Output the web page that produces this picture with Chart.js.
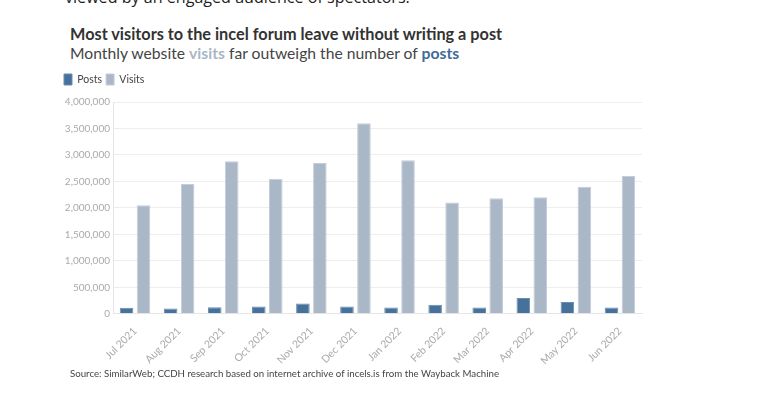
<!DOCTYPE html>
<html>
<head>
<meta charset="utf-8">
<script src="https://cdn.jsdelivr.net/npm/chart.js@4"></script>
<style>
  body { margin: 0; background: #fff; width: 758px; height: 409px; overflow: hidden; position: relative; font-family: Lato, "Noto Sans", sans-serif; }
  .intro { position: absolute; left: 65px; top: -14px; font-size: 16.1px; color: #222; font-family: "Open Sans", sans-serif; }
  .title { position: absolute; left: 70px; top: 24px; font-size: 16.3px; font-weight: bold; color: #333; }
  .subtitle { position: absolute; left: 70px; top: 44px; font-size: 15.7px; color: #444; }
  .subtitle b.v { color: #a9b6c6; }
  .subtitle b.p { color: #3e6b97; }
  .source { position: absolute; left: 70px; top: 367px; font-size: 9.7px; color: #444; }
  #wrap { position: absolute; left: 60px; top: 70px; width: 590px; height: 300px; }
</style>
</head>
<body>
<div class="intro">viewed by an engaged audience of spectators.</div>
<div class="title">Most visitors to the incel forum leave without writing a post</div>
<div class="subtitle">Monthly website <b class="v">visits</b> far outweigh the number of <b class="p">posts</b></div>
<div id="wrap"><canvas id="chart"></canvas></div>
<div class="source">Source: SimilarWeb; CCDH research based on internet archive of incels.is from the Wayback Machine</div>
<script>
const months = ['Jul 2021', 'Aug 2021', 'Sep 2021', 'Oct 2021', 'Nov 2021', 'Dec 2021',
                'Jan 2022', 'Feb 2022', 'Mar 2022', 'Apr 2022', 'May 2022', 'Jun 2022'];
const posts = [115000, 100000, 125000, 138000, 195000, 138000, 117000, 170000, 117000, 296000, 222000, 117000];
const visits = [2050000, 2450000, 2880000, 2550000, 2850000, 3600000, 2900000, 2100000, 2180000, 2200000, 2400000, 2600000];

// push the plot a little below the legend
const legendGap = {
    id: 'legendGap',
    beforeInit(chart) {
        const fit = chart.legend.fit;
        chart.legend.fit = function () {
            fit.bind(this)();
            this.height += 7;
        };
    }
};

const ctx = document.getElementById('chart').getContext('2d');
new Chart(ctx, {
    type: 'bar',
    data: {
        labels: months,
        datasets: [
            { label: 'Posts', data: posts, backgroundColor: '#46719b', borderColor: '#6a8db0', borderWidth: 1 },
            { label: 'Visits', data: visits, backgroundColor: '#aab7c6', borderColor: '#c4cdd8', borderWidth: 1 }
        ]
    },
    plugins: [legendGap],
    options: {
        responsive: true,
        maintainAspectRatio: false,
        animation: false,
        categoryPercentage: 0.77,
        barPercentage: 0.8,
        layout: { padding: { left: 0, right: 8, top: 0, bottom: 0 } },
        plugins: {
            legend: {
                position: 'top',
                align: 'start',
                labels: {
                    boxWidth: 8,
                    boxHeight: 11,
                    padding: 4,
                    color: '#444',
                    font: { family: 'Lato', size: 10.5 }
                }
            },
            tooltip: { enabled: false }
        },
        scales: {
            y: {
                min: 0,
                max: 4000000,
                ticks: {
                    stepSize: 500000,
                    color: '#aaa',
                    font: { family: 'Lato', size: 10 },
                    callback: v => v.toLocaleString('en-US')
                },
                grid: { color: '#eeeeee', drawTicks: false },
                border: { color: '#e6e6e6' },
                afterFit: s => { s.width = 53; }
            },
            x: {
                ticks: {
                    color: '#aaa',
                    font: { family: 'Lato', size: 10.5 },
                    maxRotation: 45,
                    minRotation: 45
                },
                grid: { display: false },
                border: { color: '#e6e6e6' }
            }
        }
    }
});
</script>
</body>
</html>
